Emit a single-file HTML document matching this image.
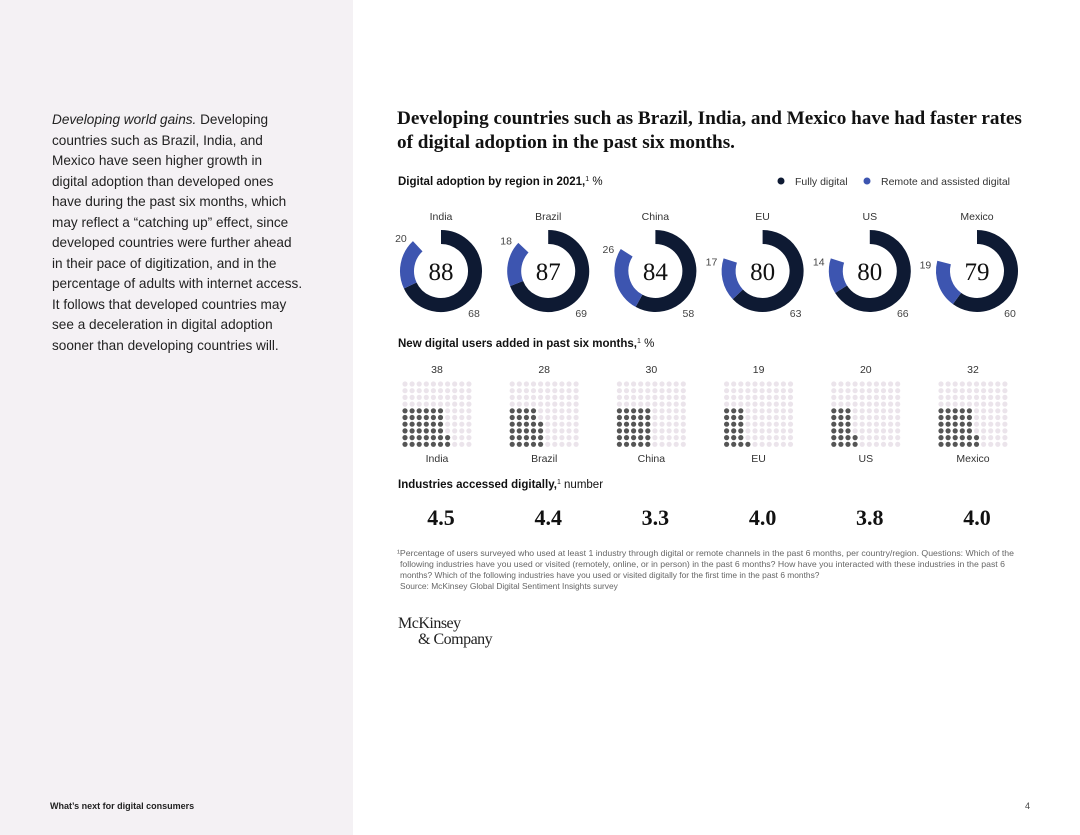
<!DOCTYPE html>
<html><head><meta charset="utf-8">
<style>
body{margin:0;width:1080px;height:835px;position:relative;background:#fff;font-family:"Liberation Sans",sans-serif;overflow:hidden}
#left{position:absolute;left:0;top:0;width:353px;height:835px;background:#f4f1f4}
#lefttext{position:absolute;left:52px;top:110px;width:290px;font-size:13.6px;line-height:20.5px;color:#222;white-space:nowrap}
#footer{position:absolute;left:50px;top:801px;font-size:9px;font-weight:bold;color:#222}
#pnum{position:absolute;left:1025px;top:801px;font-size:9px;color:#444}
svg{position:absolute;left:0;top:0}
</style></head><body>
<div id="left"></div>
<div id="lefttext"><i>Developing world gains.</i> Developing<br>countries such as Brazil, India, and<br>Mexico have seen higher growth in<br>digital adoption than developed ones<br>have during the past six months, which<br>may reflect a “catching up” effect, since<br>developed countries were further ahead<br>in their pace of digitization, and in the<br>percentage of adults with internet access.<br>It follows that developed countries may<br>see a deceleration in digital adoption<br>sooner than developing countries will.</div>
<div id="footer">What’s next for digital consumers</div>
<div id="pnum">4</div>
<svg id="chart" width="1080" height="835">
<text x="397" y="124" font-family="Liberation Serif,serif" font-weight="bold" font-size="19.2" fill="#111">Developing countries such as Brazil, India, and Mexico have had faster rates</text>
<text x="397" y="148" font-family="Liberation Serif,serif" font-weight="bold" font-size="19.2" fill="#111">of digital adoption in the past six months.</text>
<text x="398" y="185" font-size="11.5" font-weight="bold" fill="#111">Digital adoption by region in 2021,<tspan font-size="7" dy="-4" font-weight="normal">1</tspan><tspan dy="4" font-weight="normal"> %</tspan></text>
<circle cx="781" cy="181" r="3.5" fill="#0e1a33"/>
<text x="795" y="185" font-size="10.5" fill="#333">Fully digital</text>
<circle cx="867" cy="181" r="3.5" fill="#3d55b0"/>
<text x="881" y="185" font-size="10.5" fill="#333">Remote and assisted digital</text>
<text x="398" y="347" font-size="11.5" font-weight="bold" fill="#111">New digital users added in past six months,<tspan font-size="7" dy="-4" font-weight="normal">1</tspan><tspan dy="4" font-weight="normal"> %</tspan></text>
<text x="398" y="488" font-size="11.5" font-weight="bold" fill="#111">Industries accessed digitally,<tspan font-size="7" dy="-4" font-weight="normal">1</tspan><tspan dy="4" font-weight="normal"> number</tspan></text>
<g font-size="8.4" fill="#666">
<text x="397" y="556" textLength="617" lengthAdjust="spacingAndGlyphs">¹Percentage of users surveyed who used at least 1 industry through digital or remote channels in the past 6 months, per country/region. Questions: Which of the</text>
<text x="400" y="567" textLength="605" lengthAdjust="spacingAndGlyphs">following industries have you used or visited (remotely, online, or in person) in the past 6 months? How have you interacted with these industries in the past 6</text>
<text x="400" y="578">months? Which of the following industries have you used or visited digitally for the first time in the past 6 months?</text>
<text x="400" y="589">Source: McKinsey Global Digital Sentiment Insights survey</text>
</g>
<text x="398" y="628" font-family="Liberation Serif,serif" font-size="16" fill="#222" letter-spacing="-0.5">McKinsey</text>
<text x="418" y="644" font-family="Liberation Serif,serif" font-size="16" fill="#222" letter-spacing="-0.5">&amp; Company</text>
<g id="marks"></g>
</svg>
<script>
const regions=["India","Brazil","China","EU","US","Mexico"];
const fullyDigital=[68,69,58,63,66,60];
const remoteDigital=[20,18,26,17,14,19];
const newUsers=[38,28,30,19,20,32];
const industries=["4.5","4.4","3.3","4.0","3.8","4.0"];

const NS="http://www.w3.org/2000/svg";
const g=document.getElementById('marks');
function mk(tag,attrs,txt){const e=document.createElementNS(NS,tag);for(const k in attrs)e.setAttribute(k,attrs[k]);if(txt!==undefined)e.textContent=txt;g.appendChild(e);return e;}
const xC=i=>441+i*107.2;
const cy=271,R=34,W=14;
function pt(p,r,cx){const a=p/100*2*Math.PI;return [cx+r*Math.sin(a),cy-r*Math.cos(a)];}
function arc(cx,p0,p1){const[a,b]=pt(p0,R,cx),[c,d]=pt(p1,R,cx);const large=(p1-p0)>50?1:0;return `M${a} ${b}A${R} ${R} 0 ${large} 1 ${c} ${d}`;}
regions.forEach((r,i)=>{
 const cx=xC(i);
 let t=mk('text',{x:cx,y:220,'text-anchor':'middle','font-size':10.5,fill:'#333'},r);
 
 
 const f=fullyDigital[i],m=remoteDigital[i];
 let a1=mk('path',{d:arc(cx,0,f),fill:'none',stroke:'#0e1a33','stroke-width':W});
 
 
 let a2=mk('path',{d:arc(cx,f,f+m),fill:'none',stroke:'#3d55b0','stroke-width':W});
 
 
 let tc=mk('text',{x:cx,y:cy+9,'text-anchor':'middle','font-size':25,'font-family':'Liberation Serif,serif',fill:'#111'},String(f+m));
 
 
 const [lx,ly]=pt(f+m-2,52,cx);
 let tl=mk('text',{x:lx,y:ly+4,'text-anchor':'middle','font-size':10.5,fill:'#444'},String(m));
 
 
 let tf=mk('text',{x:cx+33,y:cy+46,'text-anchor':'middle','font-size':10.5,fill:'#444'},String(f));
 
 
 const gx=cx-36,gy=384;
 let tv=mk('text',{x:cx-4,y:373,'text-anchor':'middle','font-size':10.5,fill:'#333'},String(newUsers[i]));
 
 
 const n=newUsers[i],h=6;
 const full=Math.floor(n/h),rem=n%h;
 for(let col=0;col<10;col++)for(let row=0;row<10;row++){
  const k=9-row;
  const filled=(col<full&&k<h)||(col===full&&k<rem);
  let c=mk('circle',{cx:gx+col*7.1,cy:gy+row*6.7,r:2.6,fill:filled?'#555':'#ebe4eb'});
  
  
 }
 let tb=mk('text',{x:cx-4,y:462,'text-anchor':'middle','font-size':10.5,fill:'#333'},r);
 
 
 let ti=mk('text',{x:cx,y:525,'text-anchor':'middle','font-size':22,'font-weight':'bold','font-family':'Liberation Serif,serif',fill:'#111'},industries[i]);
 
 
});
</script>
</body></html>
